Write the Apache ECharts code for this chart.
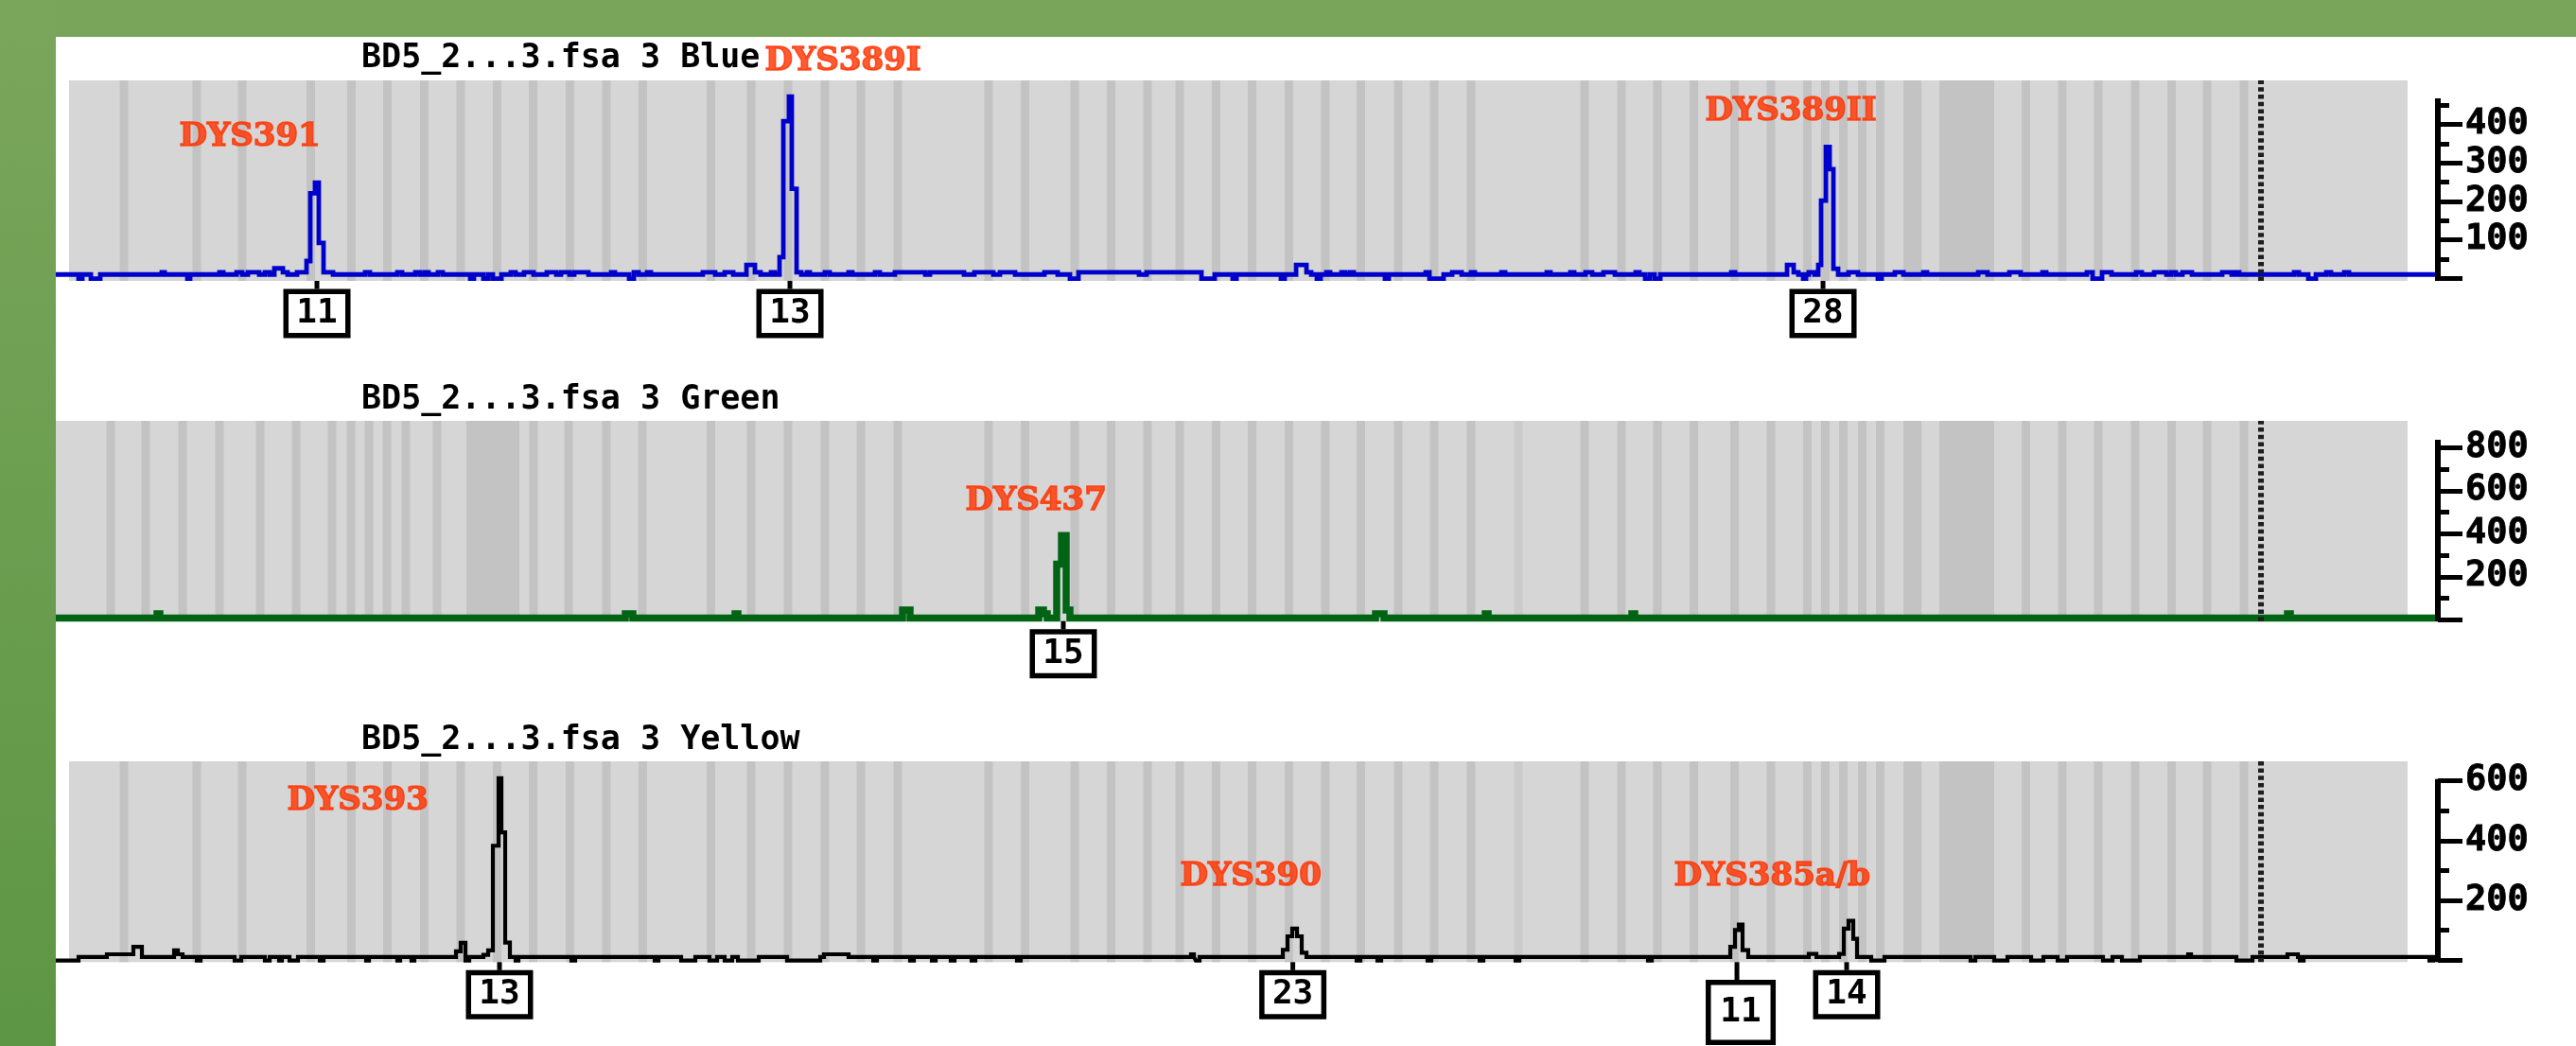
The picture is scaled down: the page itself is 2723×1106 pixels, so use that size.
<!DOCTYPE html>
<html><head><meta charset="utf-8">
<script src="https://cdn.jsdelivr.net/npm/echarts@6/dist/echarts.min.js"></script>
<style>
html,body{margin:0;padding:0;background:#fff;overflow:hidden}
#chart{position:absolute;left:0;top:0;width:2723px;height:1106px}
#frameTop{position:absolute;left:0;top:0;width:2723px;height:39px;background:#79A55A}
#frameLeft{position:absolute;left:0;top:0;width:59px;height:1106px;background:linear-gradient(#7AA65B,#5D9645)}
</style></head><body>
<div id="chart"></div><div id="frameTop"></div><div id="frameLeft"></div>
<script>
// ---------- data (x in bp, y in RFU) ----------
const panelTitles = ['BD5_2...3.fsa 3 Blue', 'BD5_2...3.fsa 3 Green', 'BD5_2...3.fsa 3 Yellow'];
const sizeRange = [60, 419.71];
const plotStartBlue = 62.0, plotStartGreen = 60.0, plotStartYellow = 62.0, plotEnd = 415.14;
const analysisEnd = 392.93;

const blueTrace = [
[60.0,10],[63.43,-1],[64.0,10],[65.29,-1],[66.71,10],[76.0,16],[76.43,10],[79.86,-1],[80.29,10],
[84.71,16],[85.29,10],[87.29,16],[88.14,10],[89.0,16],[90.71,10],[91.57,16],[92.29,10],
[93.0,26],[94.29,16],[95.0,10],[96.43,16],[97.86,45],[98.43,221],[99.14,249],[99.71,92],[100.43,16],[101.86,10],
[106.71,16],[107.43,10],[111.57,16],[112.29,10],[114.29,16],[115.0,10],[115.71,16],[116.29,10],[117.71,16],[118.43,10],
[122.57,-1],[123.14,10],[124.57,-1],[125.29,10],[126.0,-1],[127.29,10],[128.71,16],[129.43,10],[130.71,16],[132.14,10],
[134.14,16],[135.57,10],[136.29,16],[137.57,10],[138.29,16],[140.43,10],[143.86,16],[144.43,10],
[146.57,-1],[147.29,16],[148.0,10],[149.29,16],[149.86,10],[157.71,16],[159.57,10],[161.0,16],[162.29,10],
[164.29,35],[165.57,16],[166.43,10],[168.0,16],[168.57,10],
[169.29,55],[169.86,409],[170.71,473],[171.14,233],[171.86,16],[172.57,10],
[173.43,16],[173.86,10],[176.14,16],[176.86,10],[179.71,16],[180.29,10],[183.71,16],[184.43,10],
[186.71,16],[191.29,10],[192.0,16],[197.14,10],[198.71,16],[201.57,10],[202.57,16],[204.86,10],
[209.29,16],[211.29,10],[213.14,-1],[214.43,16],[223.57,10],[224.71,16],[233.0,-1],[235.0,10],
[237.71,-1],[238.29,10],[245.0,-1],[245.57,10],[247.29,35],[248.86,16],[249.57,10],[250.43,-1],[251.0,10],
[251.86,16],[252.43,10],[254.14,16],[254.71,10],[255.43,16],[256.0,10],[260.71,-1],[261.29,10],
[266.86,16],[267.43,-1],[269.57,10],[270.86,16],[272.29,10],[273.71,16],[274.29,10],[278.29,16],[278.86,10],
[285.14,16],[285.71,10],[288.71,16],[289.29,10],[291.0,16],[292.0,10],[293.71,16],[295.43,10],
[298.57,16],[299.14,10],[300.0,-1],[300.71,10],[301.43,-1],[302.29,10],[313.0,16],[313.57,10],
[321.43,35],[322.43,16],[323.14,10],[323.86,-1],[324.29,10],[324.71,16],[325.57,10],
[326.14,35],[326.57,202],[327.29,342],[327.86,284],[328.43,25],[329.14,10],
[330.71,16],[332.14,10],[335.14,-1],[335.71,10],[337.71,16],[339.0,10],[342.0,16],[342.57,10],
[350.29,16],[351.71,10],[355.0,16],[356.71,10],[360.0,16],[360.57,10],
[366.71,16],[367.57,-1],[369.0,16],[370.43,10],[374.14,16],[375.0,10],[376.86,16],[378.71,10],
[379.43,16],[380.14,10],[381.14,16],[382.57,10],[387.14,16],[388.57,10],[389.14,16],[389.71,10],
[398.0,16],[398.71,10],[400.14,-1],[401.29,10],[402.86,16],[403.57,10],[405.57,16],[406.29,10],[419.71,10]
];
const greenTrace = [
[60,8],[75.29,28],[75.71,8],[146.0,28],[147.14,8],[162.57,28],[163.0,8],[187.86,45],[189.0,8],
[208.43,45],[209.14,28],[209.71,8],[211.14,259],[211.86,391],[212.57,45],[213.14,8],
[259.29,28],[260.57,8],[275.86,28],[276.29,8],[298.0,28],[298.43,8],[397.0,28],[397.43,8],[419.71,8]
];
const yellowTrace = [
[60,-1],[63.43,11],[67.71,20],[71.71,45],[73.0,11],[77.86,33],[78.43,20],[79.14,11],
[81.29,-1],[81.86,11],[87.0,-1],[88.0,11],[91.57,-1],[92.29,11],[93.71,-1],[94.14,11],[95.29,-1],[96.57,11],
[99.86,-1],[100.43,11],[106.86,-1],[107.29,11],[111.57,-1],[112.0,11],[113.71,-1],[114.14,11],
[120.43,30],[121.14,58],[121.86,-1],[122.43,11],[124.57,18],[125.29,33],[126.0,383],[126.86,609],[127.29,428],[127.86,59],[128.57,11],
[129.43,-1],[129.86,11],[137.86,-1],[138.43,11],[150.43,-1],[151.0,11],[154.43,-1],[156.57,11],[158.71,-1],[159.86,11],
[161.0,-1],[162.14,11],[163.0,-1],[166.14,11],[170.43,-1],[175.43,11],[176.0,20],[179.71,11],[183.43,-1],[184.0,11],
[189.0,-1],[189.57,11],[192.29,-1],[192.86,11],[195.14,-1],[195.71,11],[198.29,-1],[198.86,11],[205.14,-1],[205.71,11],
[231.43,20],[231.86,11],[232.14,-1],[232.71,11],
[245.29,35],[246.0,80],[246.71,106],[247.43,80],[248.14,25],[248.86,11],
[256.43,-1],[257.0,11],[259.57,-1],[260.14,11],[267.14,-1],[267.71,11],[275.0,-1],[275.57,11],[280.43,-1],[281.0,11],[300.43,-1],[301.0,11],
[312.86,45],[313.57,101],[314.14,119],[314.71,34],[315.57,11],[324.71,21],[325.86,11],
[329.29,21],[330.0,106],[330.71,132],[331.43,72],[332.0,11],
[334.14,-1],[336.14,11],[349.14,-1],[349.86,11],[352.71,-1],[354.71,11],[358.29,-1],[360.14,11],[362.29,-1],[363.71,11],
[369.14,-1],[370.57,11],[372.0,-1],[374.71,11],[382.0,20],[382.43,11],[389.29,-1],[391.71,11],[397.0,20],[398.57,11],
[398.86,-1],[399.43,11],[418.43,-1],[419.0,11],[419.71,11]
];

// bins (bp centres)
const binsBlueYellowLeft = [70.29,81.29,88.14,98.5,104.64,110.07,115.64,121.14,126.64,132.07,137.64,143.14,148.64];
const binsGreenLeft = [68.29,73.57,79.14,84.71,90.86,96.29,101.71,104.57,107.29,110.0,112.86,117.57,132.14,137.43,143.14,148.57];
const binsCommon = [158.93,165.0,170.57,176.14,181.57,187.14,200.86,206.36,213.86,219.36,224.86,229.71,235.21,240.64,246.21,
  251.71,257.07,262.71,268.14,273.71,290.86,296.43,301.86,307.36,313.5,319.0,324.5,327.21,329.93,332.79,335.5,
  357.5,363.0,368.43,374.0,379.5,384.86,390.43];
const binsFaint = [280.86];
const binRangesCommon = [[339.0,341.71],[344.43,352.71]];
const binRangesGreen = [[122.0,130.0]];

// axis ticks
const blueMajor = [0,100,200,300,400], blueLabels = [100,200,300,400], blueMinor = [50,150,250,350,450];
const greenMajor = [0,200,400,600,800], greenLabels = [200,400,600,800], greenMinor = [100,300,500,700];
const yellowMajor = [0,200,400,600], yellowLabels = [200,400,600], yellowMinor = [100,300,500];
const yRangeBlue = [-6.64, 514.9], yRangeGreen = [-6.15, 924.4], yRangeYellow = [-6.33, 665.5];
const axisTopBlue = 468, axisTopGreen = 836, axisTopYellow = 606;

// locus names (bp, rfu anchor)
const blueLoci = ['DYS391','DYS389I','DYS389II'];
const blueLociAt = [[78.64,367.8],[167.07,563.3],[309.07,434.2]];
const greenLoci = ['DYS437'];
const greenLociAt = [[197.36,551.6]];
const yellowLoci = ['DYS393','DYS390','DYS385a/b'];
const yellowLociAt = [[94.93,531.6],[229.79,278.5],[304.36,278.5]];

// allele calls
const blueCalls = ['11','13','28'];
const blueCallAt = [99.43,170.86,326.86];
const greenCalls = ['15'];
const greenCallAt = [212.14];
const yellowCalls = ['13','23','11','14'];
const yellowCallAt = [127.0,246.8,313.86,330.43];

// ---------- build ----------
const HALF_BIN = 0.64;
function binAreas(centers, color) {
  return centers.map(c => [{xAxis: c - HALF_BIN, itemStyle: {color}}, {xAxis: c + HALF_BIN}]);
}
function rangeAreas(ranges, color) {
  return ranges.map(r => [{xAxis: r[0], itemStyle: {color}}, {xAxis: r[1]}]);
}
const STRIPE = '#C3C3C3', FAINT = '#CBCBCB', PLOT = '#D6D6D6';

const panels = [
  {title: panelTitles[0], top: 85, height: 212, range: yRangeBlue, axisTop: axisTopBlue, major: blueMajor, labels: blueLabels, minor: blueMinor,
   trace: blueTrace, color: '#0000CD', width: 4.8, start: plotStartBlue,
   bins: binAreas(binsBlueYellowLeft, STRIPE).concat(binAreas(binsCommon, STRIPE), rangeAreas(binRangesCommon, STRIPE)),
   loci: blueLoci, lociAt: blueLociAt, calls: blueCalls, callAt: blueCallAt, titleTop: 44.6},
  {title: panelTitles[1], top: 445, height: 211.7, range: yRangeGreen, axisTop: axisTopGreen, major: greenMajor, labels: greenLabels, minor: greenMinor,
   trace: greenTrace, color: '#006414', width: 7.5, start: plotStartGreen,
   bins: binAreas(binsGreenLeft, STRIPE).concat(binAreas(binsCommon, STRIPE), binAreas(binsFaint, FAINT), rangeAreas(binRangesGreen, STRIPE), rangeAreas(binRangesCommon, STRIPE)),
   loci: greenLoci, lociAt: greenLociAt, calls: greenCalls, callAt: greenCallAt, titleTop: 405.6},
  {title: panelTitles[2], top: 805, height: 212.3, range: yRangeYellow, axisTop: axisTopYellow, major: yellowMajor, labels: yellowLabels, minor: yellowMinor,
   trace: yellowTrace, color: '#000000', width: 4.2, start: plotStartYellow,
   bins: binAreas(binsBlueYellowLeft, STRIPE).concat(binAreas(binsCommon, STRIPE), binAreas(binsFaint, FAINT), rangeAreas(binRangesCommon, STRIPE)),
   loci: yellowLoci, lociAt: yellowLociAt, calls: yellowCalls, callAt: yellowCallAt, titleTop: 765.6, dropCall: 2}
];

const MONO = '"DejaVu Sans Mono", monospace';
const option = {animation: false, grid: [], xAxis: [], yAxis: [], series: [], title: []};

panels.forEach((p, i) => {
  option.title.push({text: p.title, left: 382, top: p.titleTop, padding: 0,
    textStyle: {fontFamily: MONO, fontSize: 35, fontWeight: 'bold', color: '#000', lineHeight: 35}});
  option.grid.push({left: 59, right: 146, top: p.top, height: p.height, containLabel: false});
  option.xAxis.push({type: 'value', gridIndex: i, min: sizeRange[0], max: sizeRange[1], show: false});
  option.yAxis.push({type: 'value', gridIndex: i, position: 'right', min: p.range[0], max: p.range[1],
    axisLine: {show: false}, splitLine: {show: false},
    axisTick: {show: true, customValues: p.major, length: 26, lineStyle: {color: '#000', width: 5}},
    axisLabel: {show: true, customValues: p.labels, margin: 29, fontFamily: MONO, fontWeight: 'bold', fontSize: 37, color: '#000',
      textBorderColor: '#000', textBorderWidth: 0.8}});
  option.yAxis.push({type: 'value', gridIndex: i, position: 'right', min: p.range[0], max: p.range[1],
    axisLine: {show: false}, splitLine: {show: false},
    axisTick: {show: true, customValues: p.minor, length: 12, lineStyle: {color: '#000', width: 5}},
    axisLabel: {show: false}});
  const yi = 2 * i;
  // background + bins + analysis-end marker
  option.series.push({type: 'line', xAxisIndex: i, yAxisIndex: yi, data: [], silent: true, z: 1,
    markArea: {silent: true, data: [[{xAxis: p.start, itemStyle: {color: PLOT}}, {xAxis: plotEnd}]].concat(p.bins)},
    markLine: {silent: true, symbol: 'none', label: {show: false},
      lineStyle: {color: '#1E1E1E', width: 6, type: [4.5, 3.2], opacity: 1}, data: [{xAxis: analysisEnd}]}});
  // trace
  option.series.push({type: 'line', xAxisIndex: i, yAxisIndex: yi, data: p.trace, step: 'end', symbol: 'none',
    clip: false, silent: true, z: 3, lineStyle: {color: p.color, width: p.width, join: 'miter', cap: 'butt'},
    markLine: {silent: true, symbol: 'none', label: {show: false},
      lineStyle: {color: '#000', width: 6, type: 'solid', opacity: 1},
      data: [[{coord: [sizeRange[1], p.range[0]]}, {coord: [sizeRange[1], p.axisTop]}]]}});
  // locus names
  option.series.push({type: 'scatter', xAxisIndex: i, yAxisIndex: yi, symbolSize: 1, clip: false, silent: true, z: 6,
    itemStyle: {color: 'rgba(0,0,0,0)'},
    data: p.loci.map((n, k) => ({name: n, value: p.lociAt[k]})),
    label: {show: true, position: 'inside', formatter: q => q.name, align: 'left', verticalAlign: 'middle',
      fontFamily: '"DejaVu Serif", serif', fontWeight: 'bold', fontSize: 34, color: '#FF3300',
      textBorderColor: '#FF3300', textBorderWidth: 1.6}});
  // allele call boxes
  const calls = p.calls, drop = p.dropCall;
  option.series.push({type: 'custom', xAxisIndex: i, yAxisIndex: yi, clip: false, silent: true, z: 6,
    data: p.callAt.map(v => [v, 0]),
    renderItem: function (params, api) {
      const cs = params.coordSys;
      const k = params.dataIndex;
      const x = api.coord([api.value(0), 0])[0];
      const bottom = cs.y + cs.height;
      const big = (drop === k);
      const gap = big ? 18.7 : 8.5, h = big ? 69 : 52, w = big ? 74 : 71;
      const bw = 5.5;
      const cx = big ? x + 4 : x;
      const top = bottom + gap;
      return {type: 'group', children: [
        {type: 'line', shape: {x1: x, y1: bottom, x2: x, y2: top}, style: {stroke: '#000', lineWidth: 5}},
        {type: 'rect', shape: {x: cx - w / 2 + bw / 2, y: top + bw / 2, width: w - bw, height: h - bw},
          style: {fill: '#fff', stroke: '#000', lineWidth: bw}},
        {type: 'text', style: {text: calls[k], x: cx, y: top + h / 2, align: 'center', verticalAlign: 'middle',
          fontFamily: 'DejaVu Sans Mono', fontWeight: 'bold', fontSize: 36, fill: '#000'}}
      ]};
    }});
});

const chart = echarts.init(document.getElementById('chart'), null, {renderer: 'canvas'});
chart.setOption(option);
</script></body></html>
